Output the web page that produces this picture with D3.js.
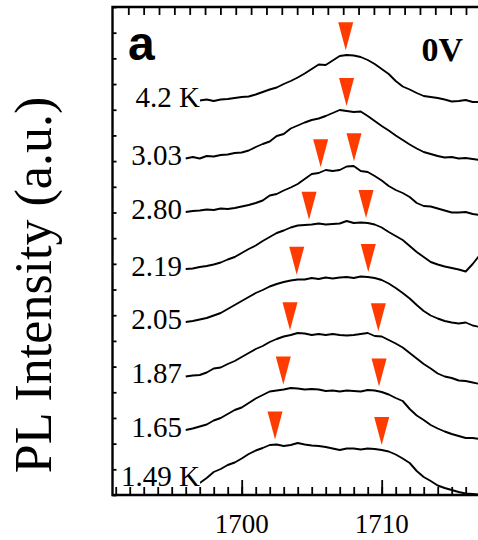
<!DOCTYPE html>
<html>
<head>
<meta charset="utf-8">
<script src="https://cdn.jsdelivr.net/npm/d3@7"></script>
<style>
  html, body { margin: 0; padding: 0; background: #fff; }
  svg { display: block; }
</style>
</head>
<body>
<svg id="chart" width="478" height="540"></svg>
<script>
// Sampling wavelengths (nm) shared by all PL spectra
const wavelengths = [
  1693, 1693.5, 1694, 1694.5, 1695, 1695.5, 1696, 1696.5, 1697, 1697.5,
  1698, 1698.5, 1699, 1699.5, 1700, 1700.5, 1701, 1701.5, 1702, 1702.5,
  1703, 1703.5, 1704, 1704.5, 1705, 1705.5, 1706, 1706.5, 1707, 1707.5,
  1708, 1708.5, 1709, 1709.5, 1710, 1710.5, 1711, 1711.5, 1712, 1712.5,
  1713, 1713.5, 1714, 1714.5, 1715, 1715.5, 1716, 1716.5, 1717
];

// Temperature of each spectrum, top to bottom
const temperatures = ["4.2 K", "3.03", "2.80", "2.19", "2.05", "1.87", "1.65", "1.49 K"];

// PL intensity (a.u., vertically offset), aligned with wavelengths; null = not recorded
const pl_4_20 = [null, null, null, null, null, null, null, null,
  394.5, 395.5, 394, 395.5, 396, 397, 398, 398.5, 400.5, 403,
  405.5, 407.5, 411, 414, 417.5, 421.5, 426, 430.5, 430, 434.5,
  439, 440, 439.5, 438, 435, 431, 426, 421, 414, 408.5,
  405.5, 402, 399, 398, 397, 395.5, 393.5, 394, 395, 393, 393];

const pl_3_03 = [null, null, null, null, null, null,
  336.5, 338, 336.5, 339, 338.5, 340, 340.5, 342, 342.5, 344.5,
  348, 351, 353.5, 359, 361, 366.5, 369.5, 372.5, 375, 376.5,
  379, 382, 385, 384, 383, 383.5, 379, 374, 369, 364.5,
  359.5, 355, 350.5, 346.5, 343, 341, 339, 337.5, 338, 336.5,
  337, 336, 335];

const pl_2_80 = [null, null, null, null, null, null,
  283, 284, 284.5, 285.5, 285, 286.5, 286, 287, 288.5, 290,
  292, 294.5, 299.5, 301, 304.5, 307.5, 311, 316, 321, 322,
  325, 324, 325, 328.5, 329, 324, 323, 319, 314.5, 309,
  305, 302, 298, 292, 289, 288.5, 286.5, 284.5, 282.5, 282.5,
  283, 281, 280];

const pl_2_19 = [null, null, null, null, null, null,
  226, 226.5, 228, 229, 230.5, 232.5, 235.5, 238, 242, 246,
  249.5, 254, 258, 262, 264.5, 267.5, 269.5, 270, 270.5, 271.5,
  270.5, 271, 271.5, 274, 272, 272.5, 272, 270.5, 267.5, 263,
  259, 255, 249, 243, 238, 233, 230.5, 228.5, 227, 225.5,
  223.5, 231, 240];

const pl_2_05 = [null, null, null, null, null, null,
  173, 174, 175.5, 177, 179.5, 182, 186, 190, 194, 198,
  202, 205, 208.5, 211, 213, 214.5, 215.5, 215.5, 217, 216,
  217.5, 216.5, 217.5, 218, 217, 218.5, 218, 217, 215, 211.5,
  207, 202, 196.5, 190, 184, 179.5, 176.5, 174, 172.5, 171.5,
  172.5, 169.5, 168];

const pl_1_87 = [null, null, null, null, null, null,
  118.5, 119.5, 120, 122.5, 126.5, 127.5, 131, 134, 138, 142,
  146, 149, 153, 156, 158.5, 160, 162, 161.5, 160, 161,
  160, 161, 160, 159.5, 160, 161, 162, 159, 158.5, 155,
  151.5, 147.5, 142, 136.5, 131, 126.5, 121.5, 118.5, 117, 114.5,
  114, 112.5, 111];

const pl_1_65 = [null, null, null, null, null, null,
  65, 66.5, 68.5, 70.5, 74.5, 77, 81, 85, 87.5, 92,
  96.5, 100, 103.5, 104.5, 105.5, 107, 106.5, 105.5, 106, 105.5,
  104, 104.5, 103.5, 104.5, 104, 103.5, 105, 104.5, 103, 100.5,
  97, 94, 86, 79.5, 75, 70, 66.5, 63.5, 61, 59,
  57, 57, 56];

const pl_1_49 = [
  3, 4, 2.5, 4.5, 4, 5.5, 6, 8, 12, 17,
  23, 26, 30, 32.5, 36.5, 41, 44.5, 47, 50, 50.5,
  49, 50, 52, 50.5, 49.5, 49, 48, 46.5, 45, 46.5,
  46.5, 45.5, 46.5, 46, 45, 43.5, 40.5, 36.5, 32, 24,
  18, 14, 9.5, 7, 5, 3, 1.5, 1, 0.5];

const spectra = [pl_4_20, pl_3_03, pl_2_80, pl_2_19, pl_2_05, pl_1_87, pl_1_65, pl_1_49];

// Peak positions (nm) marked on each spectrum
const peakPositions = [
  [1707.43],
  [1707.49],
  [1705.64, 1708.02],
  [1704.81, 1708.88],
  [1703.93, 1709.04],
  [1703.45, 1709.76],
  [1702.97, 1709.81],
  [1702.38, 1710.0]
];

const xTickLabels = [1700, 1710];
const panelLetter = "a";
const biasText = "0V";
const yTitle = "PL Intensity (a.u.)";

// ---- drawing ----
const serif = "'Liberation Serif', 'Times New Roman', Times, serif";
const svg = d3.select("#chart");
const plotLeft = 112.5, plotRight = 482.5, plotTop = 7, plotBottom = 495;

const x = d3.scaleLinear().domain([1690.77, 1717.2]).range([plotLeft, plotRight]);
const y = d3.scaleLinear().domain([0, 488]).range([plotBottom, plotTop]);
// upper axis carries its own evenly spaced scale
const xTop = d3.scaleLinear().domain([0, 22]).range([128.3, 466]);

const plot = svg.append("g");

// spectra
const line = d3.line()
  .defined(d => d.v !== null)
  .x(d => x(d.w))
  .y(d => y(d.v))
  .curve(d3.curveLinear);

const series = spectra.map((vals, i) => ({
  label: temperatures[i],
  pts: wavelengths.map((w, j) => ({ w, v: vals[j] })),
  peaks: peakPositions[i]
}));

plot.selectAll("path.spec").data(series).join("path")
  .attr("class", "spec")
  .attr("d", d => line(d.pts))
  .attr("fill", "none")
  .attr("stroke", "#000")
  .attr("stroke-width", 1.9)
  .attr("stroke-linejoin", "round");

// value of a spectrum at wavelength w (linear between samples)
function valueAt(pts, w) {
  const p = pts.filter(d => d.v !== null);
  const i = d3.bisector(d => d.w).left(p, w);
  if (i <= 0) return p[0].v;
  if (i >= p.length) return p[p.length - 1].v;
  const a = p[i - 1], b = p[i];
  return a.v + (b.v - a.v) * (w - a.w) / (b.w - a.w);
}

// temperature labels with a white backing
series.forEach(s => {
  const xEnd = s.label.endsWith("K") ? 200 : 182;
  const yv = valueAt(s.pts, x.invert(xEnd + 6));
  const g = svg.append("g");
  const t = g.append("text")
    .attr("x", xEnd).attr("y", y(yv) + 7)
    .attr("text-anchor", "end")
    .attr("font-family", serif)
    .attr("font-size", 29)
    .text(s.label);
  const bb = t.node().getBBox();
  g.insert("rect", "text")
    .attr("x", bb.x).attr("y", bb.y)
    .attr("width", bb.width).attr("height", bb.height + 5)
    .attr("fill", "#fff");
});

// peak markers (downward triangles just above the curve)
const triW = 15, triH = 28, gap = 5;
series.forEach(s => {
  s.peaks.forEach(w => {
    const tx = x(w), ty = y(valueAt(s.pts, w)) - gap;
    svg.append("path")
      .attr("d", `M${tx},${ty} L${tx - triW / 2},${ty - triH} L${tx + triW / 2},${ty - triH} Z`)
      .attr("fill", "#ff3b00");
  });
});

// axes (ticks point inward)
const axisStyle = g => {
  g.select(".domain").remove();
  g.selectAll(".tick line").attr("stroke", "#000").attr("stroke-width", 1.8);
};
svg.append("g").attr("transform", `translate(0,${plotBottom})`)
  .call(d3.axisTop(x).tickValues(d3.range(1691, 1718)).tickSize(8).tickFormat(""))
  .call(axisStyle);
svg.append("g").attr("transform", `translate(0,${plotBottom})`)
  .call(d3.axisTop(x).tickValues(xTickLabels).tickSize(15).tickFormat(""))
  .call(axisStyle);
svg.append("g").attr("transform", `translate(0,${plotTop})`)
  .call(d3.axisBottom(xTop).tickValues(d3.range(0, 23)).tickSize(8).tickFormat(""))
  .call(axisStyle);
svg.append("g").attr("transform", `translate(${plotLeft},0)`)
  .call(d3.axisRight(y).tickValues(d3.range(0, 20).map(i => i * 488 / 19)).tickSize(4).tickFormat(""))
  .call(axisStyle);

// frame
svg.append("path")
  .attr("d", `M${plotRight},${plotTop} L${plotLeft},${plotTop} L${plotLeft},${plotBottom} L${plotRight},${plotBottom}`)
  .attr("fill", "none").attr("stroke", "#000").attr("stroke-width", 2.4);

// tick labels
svg.selectAll("text.xl").data(xTickLabels).join("text")
  .attr("class", "xl")
  .attr("x", d => x(d)).attr("y", 533)
  .attr("text-anchor", "middle")
  .attr("font-family", serif).attr("font-size", 27)
  .text(d => d);

// y title
svg.append("text")
  .attr("transform", "translate(51,285) rotate(-90)")
  .attr("text-anchor", "middle")
  .attr("font-family", serif).attr("font-size", 52)
  .text(yTitle);

// panel letter and bias
svg.append("text")
  .attr("x", 128).attr("y", 60)
  .attr("font-family", "'Liberation Sans', Arial, sans-serif")
  .attr("font-weight", "bold").attr("font-size", 48)
  .text(panelLetter);
svg.append("text")
  .attr("x", 463).attr("y", 61)
  .attr("text-anchor", "end")
  .attr("font-family", serif)
  .attr("font-weight", "bold").attr("font-size", 34)
  .text(biasText);
</script>
</body>
</html>
